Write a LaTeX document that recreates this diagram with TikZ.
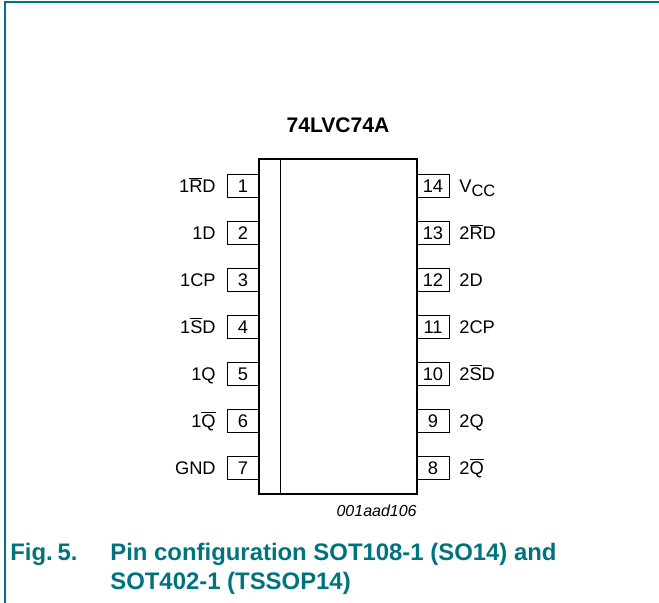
\documentclass[tikz,border=0pt]{standalone}
\usepackage{fontspec}
\setmainfont{Liberation Sans}
\usepackage{tikz}
\definecolor{nxpteal}{RGB}{0,115,127}

\begin{document}
\begin{tikzpicture}
    \tikzstyle{chipbox} = [draw,shape=rectangle,line width=1.6pt,minimum width=3.16cm,minimum height=6.7cm,inner sep=0pt]
    \tikzstyle{pinbox} = [draw,shape=rectangle,line width=0.5pt,minimum width=0.64cm,minimum height=0.46cm,inner sep=0pt,font=\fontsize{10.4}{12}\selectfont]
    \tikzstyle{pinlabel} = [inner sep=0pt,font=\fontsize{10.4}{12}\selectfont]
    \tikzstyle{caption} = [inner sep=0pt,anchor=base west,text=nxpteal,font=\fontsize{13.6}{16}\selectfont\bfseries]
    \useasboundingbox (0,0) rectangle (13.18,12.06);
    \draw[nxpteal, line width=0.6pt] (0.1,0) -- (0.1,12.02) -- (13.18,12.02);

    \node[pinbox] (pin1) at (4.86,8.34) {1};
    \node[pinbox] (pin2) at (4.86,7.40) {2};
    \node[pinbox] (pin3) at (4.86,6.46) {3};
    \node[pinbox] (pin4) at (4.86,5.52) {4};
    \node[pinbox] (pin5) at (4.86,4.58) {5};
    \node[pinbox] (pin6) at (4.86,3.64) {6};
    \node[pinbox] (pin7) at (4.86,2.70) {7};
    \node[pinbox] (pin14) at (8.66,8.34) {14};
    \node[pinbox] (pin13) at (8.66,7.40) {13};
    \node[pinbox] (pin12) at (8.66,6.46) {12};
    \node[pinbox] (pin11) at (8.66,5.52) {11};
    \node[pinbox] (pin10) at (8.66,4.58) {10};
    \node[pinbox] (pin9) at (8.66,3.64) {9};
    \node[pinbox] (pin8) at (8.66,2.70) {8};

    \node[chipbox] (chip) at (6.76,5.53) {};
    \draw[line width=0.5pt] ([xshift=0.45cm]chip.north west) -- ([xshift=0.45cm]chip.south west);

    \node[pinlabel,anchor=base east] (lab1) at (4.32,8.2) {1$\overline{\mbox{R}}$D};
    \node[pinlabel,anchor=base east] (lab2) at (4.32,7.26) {1D};
    \node[pinlabel,anchor=base east] (lab3) at (4.32,6.32) {1CP};
    \node[pinlabel,anchor=base east] (lab4) at (4.32,5.38) {1$\overline{\mbox{S}}$D};
    \node[pinlabel,anchor=base east] (lab5) at (4.32,4.44) {1Q};
    \node[pinlabel,anchor=base east] (lab6) at (4.32,3.5) {1$\overline{\mbox{Q}}$};
    \node[pinlabel,anchor=base east] (lab7) at (4.32,2.56) {GND};
    \node[pinlabel,anchor=base west] (lab14) at (9.18,8.2) {V\raisebox{-0.35ex}{\fontsize{9.4}{11}\selectfont CC}};
    \node[pinlabel,anchor=base west] (lab13) at (9.18,7.26) {2$\overline{\mbox{R}}$D};
    \node[pinlabel,anchor=base west] (lab12) at (9.18,6.32) {2D};
    \node[pinlabel,anchor=base west] (lab11) at (9.18,5.38) {2CP};
    \node[pinlabel,anchor=base west] (lab10) at (9.18,4.44) {2$\overline{\mbox{S}}$D};
    \node[pinlabel,anchor=base west] (lab9) at (9.18,3.5) {2Q};
    \node[pinlabel,anchor=base west] (lab8) at (9.18,2.56) {2$\overline{\mbox{Q}}$};

    \node[inner sep=0pt,anchor=base,font=\fontsize{12}{14}\selectfont\bfseries] (title) at (6.76,9.4) {74LVC74A};
    \node[inner sep=0pt,anchor=base east,font=\fontsize{9.1}{11}\selectfont\itshape] (code) at (8.34,1.72) {001aad106};

    \node[caption] (fignum) at (0.2,0.84) {Fig.\hspace{0.2em}5.};
    \node[caption] (line1) at (2.2,0.84) {Pin configuration SOT108-1 (SO14) and};
    \node[caption] (line2) at (2.2,0.26) {SOT402-1 (TSSOP14)};
\end{tikzpicture}
\end{document}
